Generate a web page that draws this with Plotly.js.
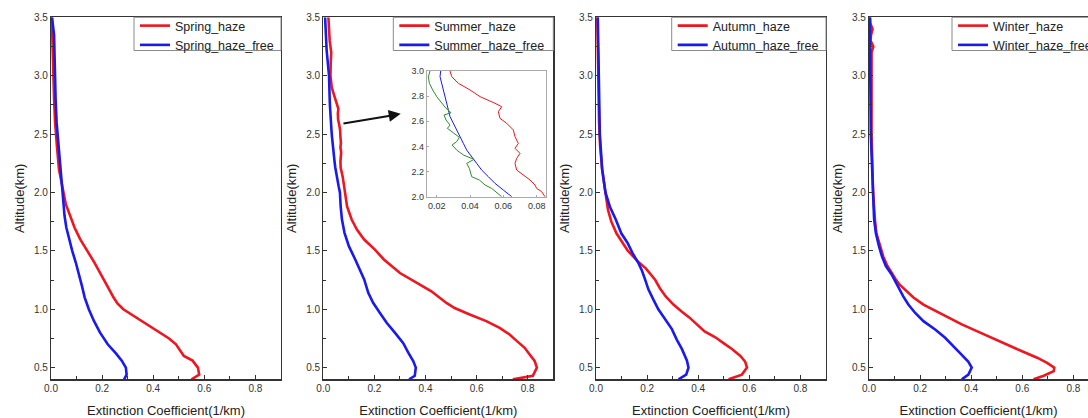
<!DOCTYPE html>
<html>
<head>
<meta charset="utf-8">
<script src="https://cdn.plot.ly/plotly-3.0.1.min.js"></script>
<style>html,body{margin:0;padding:0;background:#fff;}#chart{width:1088px;height:418px;}</style>
</head>
<body>
<div id="chart"></div>
<script>
// ---------------- data ----------------
const seasons = ['Spring', 'Summer', 'Autumn', 'Winter'];

const springHazeAlt = [0.40,0.44,0.50,0.56,0.60,0.65,0.70,0.75,0.80,0.85,0.90,0.95,1.00,1.05,1.10,1.20,1.30,1.40,1.50,1.60,1.70,1.80,1.90,2.00,2.20,2.40,2.60,2.80,3.00,3.20,3.50];
const springHaze    = [0.550,0.580,0.575,0.554,0.520,0.503,0.489,0.462,0.427,0.390,0.355,0.318,0.283,0.260,0.245,0.220,0.196,0.170,0.142,0.114,0.092,0.074,0.058,0.049,0.031,0.023,0.016,0.012,0.009,0.006,0.003];
const springFreeAlt = [0.40,0.44,0.50,0.56,0.62,0.70,0.80,0.90,1.00,1.10,1.20,1.30,1.40,1.50,1.60,1.70,1.80,1.90,2.00,2.20,2.40,2.60,2.80,3.00,3.20,3.35,3.50];
const springFree    = [0.286,0.296,0.293,0.277,0.255,0.222,0.192,0.168,0.148,0.132,0.121,0.110,0.097,0.083,0.070,0.060,0.053,0.049,0.045,0.036,0.030,0.022,0.018,0.016,0.013,0.012,0.004];

const summerHazeAlt = [0.40,0.43,0.50,0.557,0.614,0.67,0.727,0.784,0.841,0.898,0.955,1.01,1.054,1.097,1.154,1.21,1.255,1.31,1.426,1.51,1.597,1.68,1.768,1.88,2.000,2.040,2.066,2.093,2.133,2.172,2.212,2.265,2.305,2.345,2.385,2.424,2.477,2.531,2.584,2.623,2.676,2.716,2.743,2.796,2.849,2.902,2.955,3.000,3.10,3.20,3.30,3.40,3.50];
const summerHaze    = [0.742,0.820,0.836,0.827,0.807,0.788,0.758,0.729,0.690,0.638,0.573,0.514,0.482,0.456,0.423,0.378,0.345,0.300,0.237,0.202,0.160,0.132,0.111,0.093,0.085,0.083,0.080,0.079,0.076,0.072,0.068,0.067,0.068,0.070,0.067,0.069,0.067,0.066,0.062,0.058,0.057,0.059,0.055,0.046,0.040,0.033,0.029,0.028,0.029,0.031,0.025,0.022,0.020];
const summerFreeAlt = [0.40,0.43,0.50,0.557,0.63,0.71,0.80,0.884,0.97,1.055,1.14,1.255,1.426,1.54,1.654,1.768,1.88,2.000,2.053,2.106,2.159,2.212,2.265,2.318,2.371,2.424,2.477,2.531,2.584,2.637,2.690,2.743,2.796,2.849,2.902,2.955,3.000,3.22,3.50];
const summerFree    = [0.336,0.358,0.362,0.352,0.332,0.313,0.280,0.248,0.221,0.195,0.176,0.160,0.125,0.100,0.083,0.073,0.068,0.065,0.060,0.055,0.051,0.047,0.044,0.041,0.038,0.036,0.034,0.032,0.030,0.028,0.027,0.026,0.025,0.024,0.023,0.022,0.0224,0.013,0.007];

const autumnHazeAlt = [0.40,0.44,0.50,0.55,0.60,0.66,0.71,0.76,0.81,0.87,0.93,0.98,1.04,1.11,1.18,1.25,1.30,1.35,1.40,1.45,1.50,1.57,1.65,1.75,1.85,2.00,2.20,2.40,2.60,3.00,3.50];
const autumnHaze    = [0.519,0.571,0.591,0.584,0.565,0.532,0.499,0.467,0.425,0.395,0.365,0.335,0.303,0.273,0.250,0.232,0.215,0.195,0.168,0.145,0.125,0.104,0.080,0.060,0.047,0.037,0.024,0.016,0.012,0.009,0.005];
const autumnFreeAlt = [0.40,0.44,0.50,0.56,0.66,0.74,0.83,0.91,1.00,1.08,1.17,1.255,1.33,1.40,1.48,1.57,1.65,1.77,1.88,2.00,2.20,2.50,3.00,3.50];
const autumnFree    = [0.323,0.353,0.362,0.356,0.336,0.316,0.297,0.271,0.244,0.225,0.205,0.192,0.180,0.165,0.143,0.123,0.099,0.077,0.054,0.037,0.024,0.015,0.010,0.007];

const winterHazeAlt = [0.40,0.43,0.47,0.50,0.54,0.585,0.64,0.70,0.756,0.813,0.87,0.927,0.984,1.04,1.10,1.155,1.21,1.255,1.30,1.37,1.45,1.54,1.65,1.77,2.00,2.50,3.00,3.20,3.25,3.30,3.35,3.40,3.45,3.50];
const winterHaze    = [0.644,0.684,0.723,0.725,0.697,0.658,0.599,0.540,0.481,0.422,0.363,0.311,0.259,0.213,0.174,0.145,0.120,0.105,0.092,0.072,0.056,0.043,0.029,0.023,0.016,0.010,0.008,0.010,0.017,0.006,0.008,0.014,0.005,0.003];
const winterFreeAlt = [0.40,0.44,0.50,0.55,0.61,0.685,0.756,0.827,0.898,0.97,1.04,1.11,1.18,1.255,1.30,1.37,1.45,1.54,1.65,1.77,2.00,2.50,3.00,3.50];
const winterFree    = [0.363,0.389,0.402,0.389,0.363,0.330,0.298,0.259,0.213,0.180,0.154,0.134,0.117,0.102,0.088,0.066,0.051,0.039,0.027,0.020,0.015,0.007,0.005,0.004];

// inset (summer, 2–3 km) third profile
const insetGreenAlt = [2.000,2.040,2.066,2.093,2.133,2.159,2.199,2.225,2.265,2.297,2.332,2.371,2.411,2.438,2.472,2.517,2.544,2.570,2.610,2.650,2.668,2.703,2.743,2.796,2.849,2.902,2.955,3.000];
const insetGreen    = [0.059,0.0556,0.053,0.049,0.0456,0.041,0.040,0.0396,0.038,0.0424,0.036,0.032,0.0292,0.032,0.0336,0.029,0.0264,0.028,0.0256,0.0244,0.0286,0.0256,0.023,0.020,0.0176,0.0156,0.015,0.016];

const xTickVals = [0, 0.2, 0.4, 0.6, 0.8];
const yTickVals = [0.5, 1.0, 1.5, 2.0, 2.5, 3.0, 3.5];
const insetXTicks = [0.02, 0.04, 0.06, 0.08];
const insetYTicks = [2.0, 2.2, 2.4, 2.6, 2.8, 3.0];
const arrowTail = [0.073, 2.588];
const arrowHead = [0.303, 2.673];

// ---------------- styling ----------------
const RED = '#ee1620', BLUE = '#1a1aee', GREEN = '#2e8b2e';
const W = 1088, H = 418;
const panelLeft = [51, 323.3, 596, 869];
const legendBoxLeft = [134, 393.3, 671.7, 952];
const legendBoxBottom = 50.5;
const panelWidth = 230;
const pxPerUnit = 255.5;
const yTop = 17.3, yBot = 379.3;
const yDom = [1 - yBot / H, 1 - yTop / H];

const series = [
  [springHazeAlt, springHaze, springFreeAlt, springFree],
  [summerHazeAlt, summerHaze, summerFreeAlt, summerFree],
  [autumnHazeAlt, autumnHaze, autumnFreeAlt, autumnFree],
  [winterHazeAlt, winterHaze, winterFreeAlt, winterFree]
];

const traces = [];
const layout = {
  width: W, height: H,
  margin: {l: 0, r: 0, t: 0, b: 0, autoexpand: false},
  paper_bgcolor: '#fff', plot_bgcolor: '#fff',
  font: {family: 'Arial, Liberation Sans, sans-serif', color: '#222'},
  showlegend: true,
  annotations: [],
  shapes: []
};

seasons.forEach((s, i) => {
  const n = i + 1;
  const xa = 'x' + (n === 1 ? '' : n), ya = 'y' + (n === 1 ? '' : n);
  const lg = 'legend' + (n === 1 ? '' : n);
  const [ha, hv, fa, fv] = series[i];
  traces.push({x: hv, y: ha, xaxis: xa, yaxis: ya, mode: 'lines', name: s + '_haze',
    line: {color: RED, width: 2.6}, legend: lg});
  traces.push({x: fv, y: fa, xaxis: xa, yaxis: ya, mode: 'lines', name: s + '_haze_free',
    line: {color: BLUE, width: 2.6}, legend: lg});

  const left = panelLeft[i];
  const right = Math.min(left + panelWidth, W);
  const axKey = 'xaxis' + (n === 1 ? '' : n), ayKey = 'yaxis' + (n === 1 ? '' : n);
  layout[axKey] = {
    domain: [left / W, right / W], range: [0, (right - left) / pxPerUnit], anchor: ya,
    showgrid: false, zeroline: false, showline: true, linecolor: '#333', linewidth: 1.2, mirror: true,
    ticks: 'inside', ticklen: 4, tickcolor: '#333', tickvals: xTickVals, tickformat: '.1f',
    minor: {dtick: 0.1, tick0: 0, ticks: 'inside', ticklen: 3, tickcolor: '#333'},
    tickfont: {size: 10, color: '#333'}, ticklabelstandoff: -1,
    title: {text: 'Extinction Coefficient(1/km)', font: {size: 13, color: '#222'}}
  };
  layout[ayKey] = {
    domain: yDom, range: [0.4, 3.5], anchor: xa,
    showgrid: false, zeroline: false, showline: true, linecolor: '#333', linewidth: 1.2, mirror: n !== 4,
    ticks: 'inside', ticklen: 4, tickcolor: '#333', tickvals: yTickVals, tickformat: '.1f',
    minor: {dtick: 0.25, tick0: 0.5, ticks: 'inside', ticklen: 3, tickcolor: '#333'},
    tickfont: {size: 10, color: '#333'},
    title: {text: 'Altitude(km)', font: {size: 13, color: '#222'}, standoff: 6}
  };
  // legend frame
  layout.shapes.push({
    type: 'rect', xref: 'paper', yref: 'paper', layer: 'above',
    x0: legendBoxLeft[i] / W, x1: (left + panelWidth) / W,
    y0: 1 - legendBoxBottom / H, y1: yDom[1],
    line: {color: '#8a8a8a', width: 1}, fillcolor: '#fff'
  });
  layout[lg] = {
    x: (legendBoxLeft[i] + 1) / W, xanchor: 'left', y: 1 - 11 / H, yanchor: 'top',
    bgcolor: 'rgba(0,0,0,0)', borderwidth: 0,
    font: {size: 12.5, color: '#222'}, tracegroupgap: 0
  };
});

// inset subplot (summer, zoom on 2–3 km)
traces.push({x: summerHaze, y: summerHazeAlt, xaxis: 'x5', yaxis: 'y5', mode: 'lines', line: {color: RED, width: 1}, showlegend: false});
traces.push({x: summerFree, y: summerFreeAlt, xaxis: 'x5', yaxis: 'y5', mode: 'lines', line: {color: BLUE, width: 1}, showlegend: false});
traces.push({x: insetGreen, y: insetGreenAlt, xaxis: 'x5', yaxis: 'y5', mode: 'lines', line: {color: GREEN, width: 1}, showlegend: false});

layout.xaxis5 = {
  domain: [426.7 / W, 546 / W], range: [0.014, 0.0856], anchor: 'y5',
  showgrid: false, zeroline: false, showline: true, linecolor: '#aaa', linewidth: 1, mirror: true,
  ticks: 'inside', ticklen: 2, tickcolor: '#aaa', tickvals: insetXTicks, tickformat: '.2f',
  tickfont: {size: 9, color: '#333'}
};
layout.yaxis5 = {
  domain: [1 - 196.7 / H, 1 - 71 / H], range: [2.0, 3.0], anchor: 'x5',
  showgrid: false, zeroline: false, showline: true, linecolor: '#aaa', linewidth: 1, mirror: true,
  ticks: 'inside', ticklen: 2, tickcolor: '#aaa', tickvals: insetYTicks, tickformat: '.1f',
  tickfont: {size: 9, color: '#333'}
};

layout.annotations.push({
  xref: 'x2', yref: 'y2', axref: 'x2', ayref: 'y2',
  x: arrowHead[0], y: arrowHead[1], ax: arrowTail[0], ay: arrowTail[1],
  text: '', showarrow: true, arrowhead: 2, arrowsize: 1.2, arrowwidth: 2, arrowcolor: '#111'
});

Plotly.newPlot('chart', traces, layout, {staticPlot: true, displayModeBar: false});
</script>
</body>
</html>
